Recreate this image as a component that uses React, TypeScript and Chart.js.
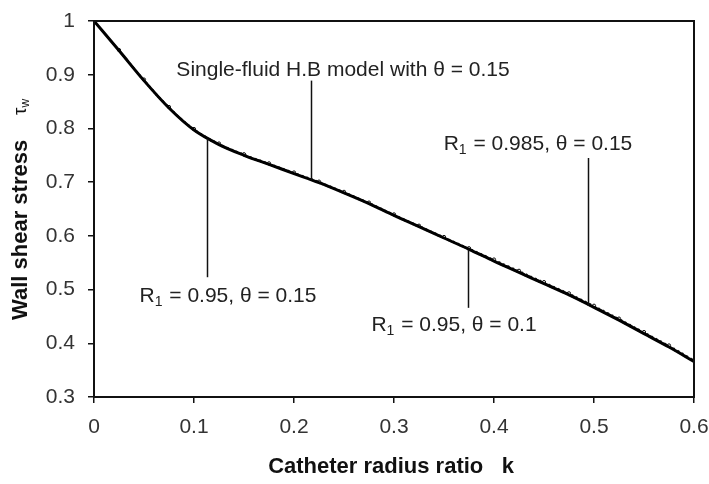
import React, { useEffect, useRef } from "react";
import { Chart, registerables } from "chart.js";

Chart.register(...registerables);

// Catheter radius ratio k
const kValues = [0, 0.025, 0.05, 0.075, 0.1, 0.125, 0.15, 0.175, 0.2, 0.225, 0.25, 0.275, 0.3, 0.325, 0.35, 0.375, 0.4, 0.425, 0.45, 0.475, 0.5, 0.525, 0.55, 0.575, 0.6];

// Single-fluid H.B model, θ = 0.15
const singleFluidHB = [1.0, 0.945, 0.889, 0.838, 0.797, 0.770, 0.750, 0.733, 0.716, 0.699, 0.680, 0.660, 0.638, 0.617, 0.596, 0.575, 0.553, 0.532, 0.511, 0.490, 0.467, 0.443, 0.418, 0.393, 0.366];
// R1 = 0.95, θ = 0.15
const r095t015 = [1.0, 0.946, 0.891, 0.840, 0.799, 0.772, 0.752, 0.735, 0.718, 0.701, 0.682, 0.662, 0.640, 0.619, 0.598, 0.577, 0.556, 0.535, 0.514, 0.493, 0.470, 0.446, 0.421, 0.396, 0.369];
// R1 = 0.95, θ = 0.1
const r095t01 = [1.0, 0.944, 0.888, 0.837, 0.796, 0.769, 0.749, 0.732, 0.715, 0.698, 0.679, 0.659, 0.637, 0.616, 0.595, 0.574, 0.552, 0.531, 0.510, 0.489, 0.466, 0.442, 0.417, 0.392, 0.365];
// R1 = 0.985, θ = 0.15
const r0985t015 = [1.0, 0.946, 0.890, 0.839, 0.798, 0.771, 0.751, 0.734, 0.717, 0.700, 0.681, 0.661, 0.639, 0.618, 0.597, 0.576, 0.555, 0.534, 0.513, 0.492, 0.469, 0.445, 0.420, 0.395, 0.368];

const xTicks = [0, 0.1, 0.2, 0.3, 0.4, 0.5, 0.6];
const yTicks = [0.3, 0.4, 0.5, 0.6, 0.7, 0.8, 0.9, 1];

// Annotations (in data units): label centre, leader line k, leader from/to values
const notes = [
  { pre: "Single-fluid H.B model with θ = 0.15", sub: "", post: "", tx: 0.249, ty: 0.909, lk: 0.217, l1: 0.889, l2: 0.704 },
  { pre: "R", sub: "1", post: " = 0.95, θ = 0.15", tx: 0.134, ty: 0.488, lk: 0.113, l1: 0.781, l2: 0.523 },
  { pre: "R", sub: "1", post: " = 0.985, θ = 0.15", tx: 0.444, ty: 0.771, lk: 0.494, l1: 0.745, l2: 0.470 },
  { pre: "R", sub: "1", post: " = 0.95, θ = 0.1", tx: 0.360, ty: 0.434, lk: 0.374, l1: 0.574, l2: 0.466 },
];

const FONT = "'Liberation Sans', Arial, sans-serif";

const pts = (arr: number[]) => kValues.map((k, i) => ({ x: k, y: arr[i] }));

const decorPlugin = {
  id: "decor",
  afterDatasetsDraw(chart: any) {
    const { ctx, chartArea, scales } = chart;
    const xs = scales.x;
    const ys = scales.y;
    ctx.save();
    // frame
    ctx.strokeStyle = "#111";
    ctx.lineWidth = 2;
    ctx.strokeRect(chartArea.left, chartArea.top, chartArea.width, chartArea.height);

    // leaders + labels
    ctx.fillStyle = "#222";
    ctx.strokeStyle = "#111";
    ctx.lineWidth = 1.5;
    for (const n of notes) {
      const lx = Math.round(xs.getPixelForValue(n.lk)) + 0.5;
      ctx.beginPath();
      ctx.moveTo(lx, ys.getPixelForValue(n.l1));
      ctx.lineTo(lx, ys.getPixelForValue(n.l2));
      ctx.stroke();

      const big = "21px " + FONT;
      const small = "14px " + FONT;
      ctx.font = big;
      const w1 = ctx.measureText(n.pre).width;
      const w3 = ctx.measureText(n.post).width;
      ctx.font = small;
      const w2 = n.sub ? ctx.measureText(n.sub).width + 1 : 0;
      const total = w1 + w2 + w3;
      const cx = xs.getPixelForValue(n.tx);
      const cy = ys.getPixelForValue(n.ty);
      let x0 = cx - total / 2;
      ctx.textBaseline = "middle";
      ctx.textAlign = "left";
      ctx.font = big;
      ctx.fillText(n.pre, x0, cy);
      x0 += w1;
      if (n.sub) {
        ctx.font = small;
        ctx.fillText(n.sub, x0, cy + 6);
        x0 += w2;
      }
      ctx.font = big;
      ctx.fillText(n.post, x0, cy);
    }

    // x axis title
    ctx.fillStyle = "#111";
    ctx.font = "bold 22px " + FONT;
    ctx.textAlign = "center";
    ctx.textBaseline = "middle";
    ctx.fillText("Catheter radius ratio   k", (chartArea.left + chartArea.right) / 2 - 3, 467);

    // y axis title
    ctx.save();
    ctx.translate(21, 320);
    ctx.rotate(-Math.PI / 2);
    ctx.textAlign = "left";
    ctx.textBaseline = "middle";
    ctx.font = "bold 22px " + FONT;
    ctx.fillText("Wall shear stress", 0, 0);
    ctx.font = "19px " + FONT;
    ctx.fillText("τ", 205, 0);
    const tw = ctx.measureText("τ").width;
    ctx.font = "12px " + FONT;
    ctx.fillText("w", 205 + tw, 5);
    ctx.restore();

    ctx.restore();
  },
};

export default function App() {
  const ref = useRef<HTMLCanvasElement>(null);
  useEffect(() => {
    if (!ref.current) return;
    const chart = new Chart(ref.current, {
      type: "line",
      data: {
        datasets: [
          {
            label: "Single-fluid H.B model, θ = 0.15",
            data: pts(singleFluidHB),
            borderColor: "#000",
            borderWidth: 3,
            pointRadius: 0,
            cubicInterpolationMode: "monotone",
          },
          {
            label: "R1 = 0.95, θ = 0.15",
            data: pts(r095t015),
            borderColor: "#222",
            borderWidth: 1.2,
            borderDash: [2, 3],
            pointRadius: 1.6,
            pointBackgroundColor: "#fff",
            pointBorderColor: "#111",
            pointBorderWidth: 1,
            cubicInterpolationMode: "monotone",
          },
          {
            label: "R1 = 0.95, θ = 0.1",
            data: pts(r095t01),
            borderColor: "#111",
            borderWidth: 1.2,
            borderDash: [1, 2],
            pointRadius: 0,
            cubicInterpolationMode: "monotone",
          },
          {
            label: "R1 = 0.985, θ = 0.15",
            data: pts(r0985t015),
            borderColor: "#333",
            borderWidth: 1.2,
            borderDash: [5, 3],
            pointRadius: 0,
            cubicInterpolationMode: "monotone",
          },
        ],
      },
      options: {
        animation: false,
        responsive: true,
        maintainAspectRatio: false,
        layout: { padding: { top: 21, right: 15, left: 0, bottom: 0 } },
        plugins: { legend: { display: false }, tooltip: { enabled: false } },
        scales: {
          x: {
            type: "linear",
            min: 0,
            max: 0.6,
            afterBuildTicks: (s: any) => {
              s.ticks = xTicks.map((v) => ({ value: v }));
            },
            afterFit: (s: any) => {
              s.height = 87;
              s.paddingLeft = 0;
              s.paddingRight = 0;
            },
            ticks: {
              color: "#333",
              font: { size: 21, family: FONT },
              padding: 12,
              maxRotation: 0,
              autoSkip: false,
              callback: (v: any) => String(Number(Number(v).toFixed(1))),
            },
            grid: { drawOnChartArea: false, drawTicks: true, tickLength: 6, color: "#111", lineWidth: 1.5 },
            border: { display: true, color: "#111", width: 2 },
          },
          y: {
            type: "linear",
            min: 0.3,
            max: 1,
            afterBuildTicks: (s: any) => {
              s.ticks = yTicks.map((v) => ({ value: v }));
            },
            afterFit: (s: any) => {
              s.width = 94;
              s.paddingTop = 0;
              s.paddingBottom = 0;
            },
            ticks: {
              color: "#333",
              font: { size: 21, family: FONT },
              padding: 13,
              autoSkip: false,
              callback: (v: any) => String(Number(Number(v).toFixed(1))),
            },
            grid: { drawOnChartArea: false, drawTicks: true, tickLength: 6, color: "#111", lineWidth: 1.5 },
            border: { display: true, color: "#111", width: 2 },
          },
        },
      },
      plugins: [decorPlugin],
    });
    return () => chart.destroy();
  }, []);
  return (
    <div style={{ position: "absolute", left: 0, top: 0, width: 709, height: 484, background: "#fff" }}>
      <canvas ref={ref} />
    </div>
  );
}
